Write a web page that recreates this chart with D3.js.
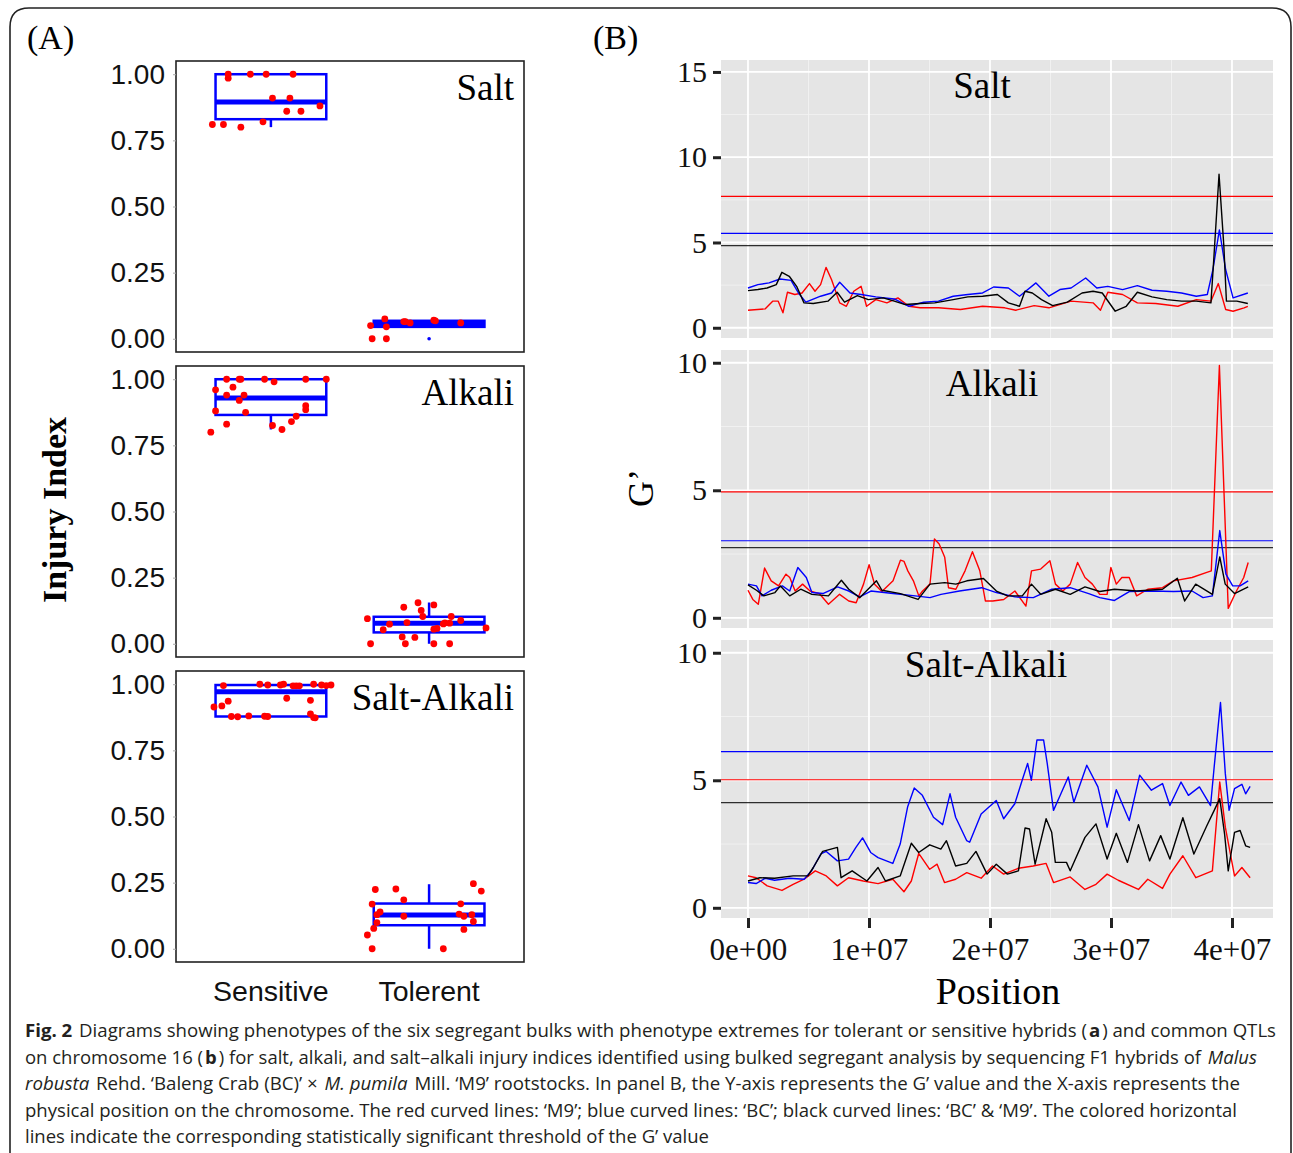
<!DOCTYPE html>
<html>
<head>
<meta charset="utf-8">
<script src="https://cdnjs.cloudflare.com/ajax/libs/d3/7.8.5/d3.min.js"></script>
<style>
  body { margin: 0; background: #fff; }
  svg { display: block; }
</style>
</head>
<body>
<div id="app"></div>
<script>
// ---------- panel A data ----------
const categories = ["Sensitive", "Tolerent"];
const treatments = ["Salt", "Alkali", "Salt-Alkali"];
const injuryTicks = [0, 0.25, 0.5, 0.75, 1];

// box stats: [lower whisker, q1, median, q3, upper whisker]
const saltBoxes = [[0.80, 0.83, 0.895, 1.0, 1.0], [0.045, 0.045, 0.058, 0.068, 0.068]];
const alkaliBoxes = [[0.81, 0.865, 0.929, 1.0, 1.0], [0.0, 0.043, 0.078, 0.102, 0.156]];
const saltAlkaliBoxes = [[0.878, 0.878, 0.972, 0.997, 1.0], [0.0, 0.089, 0.128, 0.171, 0.244]];
const saltOutliers = [[], [0]];
const alkaliOutliers = [[], []];
const saltAlkaliOutliers = [[], []];

// jittered points: [jitter, injury index]
const saltSensitive = [[-0.37,0.81],[-0.30,0.81],[-0.19,0.80],[-0.05,0.82],[-0.27,1.00],[-0.27,0.985],[-0.13,1.00],[-0.03,1.00],[0.14,1.00],[0.01,0.91],[0.12,0.91],[0.31,0.88],[0.10,0.86],[0.19,0.86]];
const saltTolerent = [[-0.37,0.05],[-0.36,0.0],[-0.28,0.075],[-0.27,0.045],[-0.27,0.0],[-0.16,0.065],[-0.15,0.065],[-0.12,0.06],[0.03,0.07],[0.04,0.068],[0.20,0.06]];
const alkaliSensitive = [[-0.38,0.80],[-0.28,0.83],[-0.35,0.88],[-0.35,0.96],[-0.28,1.00],[-0.24,0.97],[-0.28,0.94],[-0.20,1.00],[-0.19,1.00],[-0.17,0.94],[-0.20,0.92],[-0.16,0.875],[-0.04,1.00],[0.02,0.99],[0.01,0.825],[0.07,0.81],[0.13,0.84],[0.16,0.86],[0.22,1.00],[0.22,0.90],[0.22,0.885],[0.35,1.00]];
const alkaliTolerent = [[-0.39,0.095],[-0.37,0.0],[-0.29,0.053],[-0.25,0.074],[-0.16,0.138],[-0.17,0.026],[-0.15,0.0],[-0.14,0.08],[-0.09,0.024],[-0.07,0.155],[-0.05,0.126],[-0.04,0.103],[0.03,0.147],[0.03,0.055],[0.05,0.058],[0.03,0.0],[0.09,0.075],[0.10,0.079],[0.13,0.078],[0.14,0.103],[0.13,0.0],[0.20,0.088],[0.36,0.06]];
const saltAlkaliSensitive = [[-0.36,0.914],[-0.31,0.918],[-0.27,0.936],[-0.30,0.995],[-0.25,0.878],[-0.21,0.877],[-0.14,0.88],[-0.07,1.00],[-0.04,0.879],[-0.02,0.878],[-0.02,0.997],[0.06,0.997],[0.08,1.00],[0.10,0.947],[0.14,0.994],[0.16,0.994],[0.18,0.994],[0.25,0.939],[0.25,0.888],[0.27,0.874],[0.28,0.873],[0.27,1.00],[0.32,0.997],[0.35,0.995],[0.38,0.997]];
const saltAlkaliTolerent = [[-0.34,0.224],[-0.21,0.226],[0.28,0.246],[0.33,0.218],[-0.36,0.169],[-0.16,0.185],[0.20,0.17],[-0.33,0.129],[-0.31,0.139],[-0.16,0.123],[0.19,0.131],[0.22,0.123],[0.27,0.129],[-0.33,0.099],[0.28,0.103],[-0.35,0.077],[0.22,0.073],[-0.39,0.052],[-0.36,0.0],[0.09,0.0]];

// ---------- panel B data (position in Mb, G') ----------
const positionTicks = [0, 1e7, 2e7, 3e7, 4e7];
const positionMinor = [0.5e7, 1.5e7, 2.5e7, 3.5e7];
const gTicksSalt = [0, 5, 10, 15];
const gTicks = [0, 5, 10];
// thresholds: [M9 (red), BC (blue), BC & M9 (black)]
const saltThresholds = [7.7, 5.53, 4.82];
const alkaliThresholds = [4.94, 3.02, 2.75];
const saltAlkaliThresholds = [5.02, 6.12, 4.12];

const saltM9 = [[0,1.03],[1.43,1.11],[2.04,1.56],[2.5,1.56],[2.89,0.88],[3.26,2.08],[3.87,1.95],[4.47,2.04],[5.08,2.59],[5.54,2.14],[6.0,2.53],[6.45,3.54],[6.91,2.82],[7.58,1.46],[8.13,1.26],[8.74,2.14],[9.35,2.43],[9.8,1.26],[10.56,1.65],[11.48,1.46],[12.39,1.75],[13.3,1.26],[14.22,1.17],[15.74,1.17],[17.56,1.07],[19.39,1.26],[21.22,1.17],[22.13,1.03],[23.65,1.3],[24.87,1.17],[26.7,1.56],[28.52,1.46],[29.13,1.03],[29.74,2.08],[30.96,1.95],[32.18,1.46],[33.7,1.42],[35.53,1.26],[37.05,1.65],[38.26,1.56],[38.87,2.59],[39.48,1.07],[40.09,0.97],[41.0,1.17],[41.31,1.26]];
const saltBC = [[0,2.33],[0.82,2.53],[1.74,2.63],[2.65,2.86],[3.56,2.78],[4.17,2.04],[4.78,1.5],[6.0,1.85],[6.91,2.04],[7.58,2.67],[8.43,2.04],[9.35,1.95],[10.56,1.81],[12.09,1.69],[13.3,1.26],[14.52,1.5],[15.74,1.56],[16.96,1.85],[18.17,1.95],[19.39,2.04],[20.3,2.39],[21.52,2.33],[22.44,1.85],[23.8,2.63],[24.87,1.85],[25.78,2.24],[26.7,2.33],[27.91,2.92],[28.83,2.33],[29.74,2.43],[30.96,2.24],[32.18,2.47],[33.39,2.2],[34.61,2.14],[35.83,2.04],[37.05,1.85],[37.96,1.95],[38.42,3.4],[38.96,5.74],[39.48,3.4],[40.09,1.75],[41.31,2.04]];
const saltBoth = [[0,2.18],[0.82,2.24],[1.58,2.33],[2.34,2.53],[2.80,3.25],[3.41,3.02],[4.02,2.43],[4.63,1.46],[5.39,1.42],[6.61,1.56],[7.37,2.08],[7.98,1.5],[9.04,1.89],[9.95,1.65],[11.17,1.75],[12.09,1.56],[13.0,1.36],[14.22,1.42],[15.43,1.46],[16.96,1.65],[18.17,1.81],[19.39,1.85],[20.61,1.95],[21.52,1.46],[22.44,1.26],[22.89,2.14],[23.5,2.04],[24.26,1.65],[25.18,1.3],[26.39,1.5],[27.61,2.04],[28.52,2.14],[29.28,2.04],[30.35,0.97],[31.26,1.26],[32.18,2.08],[33.39,1.81],[34.61,1.65],[35.83,1.56],[37.05,1.56],[38.26,1.46],[38.51,4.18],[38.93,9.0],[39.33,4.77],[39.54,1.56],[40.4,1.56],[41.31,1.42]];

const alkaliM9 = [[0,1.08],[0.4,0.72],[0.85,0.53],[1.37,1.95],[1.92,1.45],[2.53,1.25],[3.14,1.71],[3.45,1.58],[3.9,1.05],[4.51,1.32],[5.13,1.05],[5.89,0.95],[6.65,0.53],[7.57,0.92],[8.33,0.66],[8.94,0.59],[9.55,1.32],[10.01,2.08],[10.46,1.32],[11.07,1.03],[11.99,1.45],[12.6,2.26],[12.9,2.21],[13.21,1.84],[13.67,1.45],[14.12,0.86],[14.43,1.05],[15.04,1.32],[15.41,3.09],[15.8,2.89],[16.26,2.37],[16.57,1.18],[17.18,1.12],[17.94,1.84],[18.55,2.59],[19.16,1.84],[19.62,0.66],[20.23,0.66],[21.14,0.72],[22.06,1.05],[22.97,0.46],[23.43,1.84],[24.19,1.91],[24.95,2.24],[25.41,1.32],[26.02,1.05],[26.63,1.32],[27.24,2.17],[27.85,1.58],[28.46,1.32],[29.07,0.92],[29.68,0.92],[29.99,1.97],[30.44,1.32],[30.9,1.58],[31.51,1.58],[32.12,0.86],[33.04,1.12],[34.26,1.18],[35.17,1.45],[36.7,1.58],[37.92,1.78],[38.29,1.84],[38.96,9.89],[39.69,0.37],[40.37,1.05],[40.97,1.58],[41.34,2.17]];
const alkaliBC = [[0,1.32],[0.7,1.25],[1.16,0.86],[1.92,1.08],[2.84,1.25],[3.45,1.05],[4.12,1.97],[4.82,1.58],[5.28,0.99],[6.19,0.95],[7.41,1.21],[8.33,1.05],[9.23,0.82],[10.16,1.05],[11.99,0.95],[13.82,0.86],[15.04,0.79],[15.95,0.92],[17.48,1.05],[19.31,1.18],[20.53,0.99],[22.06,0.82],[23.58,0.79],[25.11,1.12],[26.63,1.18],[28.16,0.95],[29.07,0.79],[30.29,0.68],[31.51,1.03],[33.34,1.05],[35.17,1.03],[36.7,1.05],[37.61,0.79],[38.38,0.86],[38.99,3.42],[39.5,1.71],[40.06,1.25],[40.67,1.25],[41.34,1.45]];
const alkaliBoth = [[0,1.29],[0.7,1.08],[1.31,0.86],[2.23,0.99],[2.68,1.25],[3.45,0.86],[4.36,1.12],[5.28,0.92],[6.65,0.86],[7.72,1.47],[8.33,1.12],[9.23,0.79],[10.62,1.45],[11.07,1.08],[12.6,0.95],[14.06,0.72],[15.04,1.32],[16.26,1.38],[17.18,1.32],[18.09,1.45],[19.46,1.54],[20.53,1.05],[21.45,0.86],[22.67,0.86],[23.43,1.32],[24.19,0.92],[25.41,1.12],[26.63,0.92],[27.85,1.21],[29.07,1.03],[30.29,1.12],[32.12,1.05],[34.26,1.12],[35.48,1.55],[36.09,0.66],[37.0,1.32],[38.38,0.92],[38.99,2.39],[39.44,1.32],[40.21,0.95],[41.34,1.21]];

const saltAlkaliM9 = [[0,1.25],[0.67,1.18],[1.59,0.86],[2.81,0.68],[3.73,0.92],[4.64,1.12],[5.56,1.45],[6.47,1.25],[7.39,0.86],[8.31,1.18],[9.53,1.05],[10.75,0.95],[11.97,1.12],[12.89,0.63],[13.5,1.05],[14.11,2.13],[15.02,1.51],[15.63,1.71],[16.24,0.99],[17.16,1.12],[18.08,1.38],[19.27,1.16],[20.21,1.64],[21.13,1.32],[22.35,1.55],[23.57,1.64],[24.64,1.74],[25.25,0.99],[26.63,1.21],[27.85,0.72],[28.76,0.92],[29.68,1.32],[30.6,1.08],[32.27,0.72],[33.04,1.12],[34.26,0.76],[34.87,1.32],[35.94,2.04],[37.01,1.18],[38.38,1.45],[38.99,4.93],[39.45,3.16],[40.21,1.25],[40.82,1.58],[41.5,1.18]];
const saltAlkaliBC = [[0,0.99],[0.67,0.95],[1.44,1.16],[2.2,1.08],[3.42,1.16],[4.64,1.12],[5.25,1.45],[6.02,2.11],[6.47,2.21],[7.39,1.84],[8.31,1.91],[8.92,2.37],[9.47,2.74],[10.14,2.17],[10.75,1.97],[11.97,1.74],[12.58,2.5],[13.19,3.95],[13.74,4.7],[14.41,4.41],[15.33,3.55],[16.09,3.26],[16.7,4.47],[17.16,3.55],[18.08,2.63],[18.32,2.57],[19.27,3.68],[20.52,4.21],[21.13,3.49],[22.05,4.08],[22.66,5.0],[23.11,5.66],[23.42,5.0],[23.88,6.58],[24.43,6.58],[24.73,5.66],[25.25,3.82],[25.86,4.47],[26.47,5.13],[26.93,4.14],[28.0,5.59],[28.92,4.74],[29.68,3.16],[30.44,4.63],[31.51,3.42],[32.37,5.2],[33.34,4.61],[34.26,4.87],[34.87,4.01],[35.79,4.93],[36.4,4.41],[37.31,4.74],[38.23,4.01],[38.53,5.53],[39.05,8.05],[39.45,5.26],[39.76,3.82],[40.21,4.67],[40.82,4.84],[41.13,4.47],[41.5,4.76]];
const saltAlkaliBoth = [[0,1.05],[0.98,1.18],[2.2,1.16],[3.73,1.25],[4.95,1.25],[5.4,1.58],[6.17,2.21],[7.39,2.37],[7.69,1.18],[8.61,1.45],[9.83,1.05],[10.75,1.58],[11.36,1.05],[12.58,1.25],[13.5,2.53],[14.11,2.17],[15.02,2.47],[15.94,2.3],[16.4,2.63],[17.16,1.64],[18.08,1.74],[18.84,2.21],[19.76,1.32],[20.52,1.71],[21.44,1.32],[22.35,1.45],[22.9,3.13],[23.27,3.09],[23.73,1.71],[24.64,3.49],[25.1,2.96],[25.4,1.78],[26.32,1.78],[26.63,1.45],[27.85,2.76],[28.76,3.29],[29.68,1.91],[30.44,2.92],[31.36,1.78],[32.27,3.26],[33.19,1.84],[34.11,2.83],[34.87,1.91],[35.94,3.53],[36.85,2.11],[37.92,3.22],[38.53,3.82],[38.99,4.28],[39.39,2.89],[39.69,1.45],[40.21,2.96],[40.67,3.03],[41.13,2.43],[41.5,2.37]];

// ---------- drawing ----------
const width = 1293;
const height = 1153;
const serif = "'Liberation Serif', 'Times New Roman', serif";
const sans = "'Liberation Sans', Arial, sans-serif";
const lineColors = ["#ff0000", "#0000ff", "#000000"];

const svg = d3
  .select("#app")
  .append("svg")
  .attr("width", width)
  .attr("height", height);

// outer rounded frame, open at the bottom
svg
  .append("path")
  .attr("d", "M10,1153 L10,27 Q10,8 29,8 L1272,8 Q1291,8 1291,27 L1291,1153")
  .attr("fill", "none")
  .attr("stroke", "#222")
  .attr("stroke-width", 1.6);

svg.append("text").text("(A)").attr("x", 27).attr("y", 49)
  .style("font-family", serif).style("font-size", "34px");
svg.append("text").text("(B)").attr("x", 593).attr("y", 49)
  .style("font-family", serif).style("font-size", "34px");

// ----- panel A -----
const aLeft = 176, aRight = 524, aHeight = 291;
const aTops = [61, 366, 671];
const aBoxes = [saltBoxes, alkaliBoxes, saltAlkaliBoxes];
const aOutliers = [saltOutliers, alkaliOutliers, saltAlkaliOutliers];
const aPoints = [
  [saltSensitive, saltTolerent],
  [alkaliSensitive, alkaliTolerent],
  [saltAlkaliSensitive, saltAlkaliTolerent]
];
const aTitleY = [100, 405, 710];

const xA = d3.scaleLinear().domain([0.4, 2.6]).range([aLeft, aRight]);
const boxHalf = 0.35;

treatments.forEach((name, i) => {
  const top = aTops[i];
  const yA = d3.scaleLinear().domain([-0.05, 1.05]).range([top + aHeight, top]);
  const g = svg.append("g");

  g.append("rect")
    .attr("x", aLeft).attr("y", top)
    .attr("width", aRight - aLeft).attr("height", aHeight)
    .attr("fill", "#fff").attr("stroke", "#222").attr("stroke-width", 1.6);

  const yAxis = d3.axisLeft(yA).tickValues(injuryTicks).tickSize(3).tickPadding(8)
    .tickFormat(d3.format(".2f"));
  const ax = g.append("g").attr("transform", `translate(${aLeft},0)`).call(yAxis);
  ax.select(".domain").remove();
  ax.selectAll("line").attr("stroke", "#aaa");
  ax.selectAll("text").style("font-family", sans).style("font-size", "28px").attr("fill", "#111");

  // boxes
  aBoxes[i].forEach(([lo, q1, med, q3, hi], c) => {
    const cx = xA(c + 1);
    const bx = g.append("g").attr("stroke", "#0000ff").attr("fill", "none");
    bx.append("line").attr("x1", cx).attr("x2", cx).attr("y1", yA(q3)).attr("y2", yA(hi)).attr("stroke-width", 2.5);
    bx.append("line").attr("x1", cx).attr("x2", cx).attr("y1", yA(q1)).attr("y2", yA(lo)).attr("stroke-width", 2.5);
    bx.append("rect")
      .attr("x", xA(c + 1 - boxHalf)).attr("y", yA(q3))
      .attr("width", xA(c + 1 + boxHalf) - xA(c + 1 - boxHalf))
      .attr("height", yA(q1) - yA(q3))
      .attr("stroke-width", 2.5);
    bx.append("line")
      .attr("x1", xA(c + 1 - boxHalf)).attr("x2", xA(c + 1 + boxHalf))
      .attr("y1", yA(med)).attr("y2", yA(med)).attr("stroke-width", 5);
    aOutliers[i][c].forEach(v => {
      g.append("circle").attr("cx", cx).attr("cy", yA(v)).attr("r", 1.8).attr("fill", "#0000ff");
    });
  });

  // jittered points
  aPoints[i].forEach((pts, c) => {
    g.selectAll(null)
      .data(pts)
      .enter()
      .append("circle")
      .attr("cx", ([j]) => xA(c + 1 + j))
      .attr("cy", ([, v]) => yA(v))
      .attr("r", 3.4)
      .attr("fill", "#ff0000");
  });

  g.append("text").text(name)
    .attr("x", 514).attr("y", aTitleY[i]).attr("text-anchor", "end")
    .style("font-family", serif).style("font-size", "37px");
});

categories.forEach((c, i) => {
  svg.append("text").text(c)
    .attr("x", xA(i + 1)).attr("y", 1001).attr("text-anchor", "middle")
    .style("font-family", sans).style("font-size", "28.5px").attr("fill", "#111");
});

svg.append("text").text("Injury Index")
  .attr("transform", "translate(66,510) rotate(-90)")
  .attr("text-anchor", "middle")
  .style("font-family", serif).style("font-size", "34px").style("font-weight", "bold");

// ----- panel B -----
const bLeft = 721, bRight = 1273, bHeight = 278;
const bTops = [60, 350, 640];
const bSeries = [
  [saltM9, saltBC, saltBoth],
  [alkaliM9, alkaliBC, alkaliBoth],
  [saltAlkaliM9, saltAlkaliBC, saltAlkaliBoth]
];
const bThresholds = [saltThresholds, alkaliThresholds, saltAlkaliThresholds];
const bDomains = [[-0.6, 15.7], [-0.4, 10.5], [-0.4, 10.5]];
const bTicks = [gTicksSalt, gTicks, gTicks];
const bMinor = [[2.5, 7.5, 12.5], [2.5, 7.5], [2.5, 7.5]];
const bTitle = [[982, 98], [992, 396], [986, 677]];

const xB = d3.scaleLinear().domain([-2.23e6, 43.39e6]).range([bLeft, bRight]);
const expFormat = v => d3.format(".0e")(v).replace(/e([+-])(\d)$/, "e$10$2");

treatments.forEach((name, i) => {
  const top = bTops[i];
  const yB = d3.scaleLinear().domain(bDomains[i]).range([top + bHeight, top]);
  const g = svg.append("g");

  g.append("rect")
    .attr("x", bLeft).attr("y", top)
    .attr("width", bRight - bLeft).attr("height", bHeight)
    .attr("fill", "#e5e5e5");

  // minor grid
  g.selectAll(null).data(positionMinor).enter().append("line")
    .attr("x1", d => xB(d)).attr("x2", d => xB(d))
    .attr("y1", top).attr("y2", top + bHeight)
    .attr("stroke", "#f2f2f2").attr("stroke-width", 0.9);
  g.selectAll(null).data(bMinor[i]).enter().append("line")
    .attr("x1", bLeft).attr("x2", bRight)
    .attr("y1", d => yB(d)).attr("y2", d => yB(d))
    .attr("stroke", "#f2f2f2").attr("stroke-width", 0.9);
  // major grid
  g.selectAll(null).data(positionTicks).enter().append("line")
    .attr("x1", d => xB(d)).attr("x2", d => xB(d))
    .attr("y1", top).attr("y2", top + bHeight)
    .attr("stroke", "#fff").attr("stroke-width", 1.8);
  g.selectAll(null).data(bTicks[i]).enter().append("line")
    .attr("x1", bLeft).attr("x2", bRight)
    .attr("y1", d => yB(d)).attr("y2", d => yB(d))
    .attr("stroke", "#fff").attr("stroke-width", 1.8);

  // threshold lines
  bThresholds[i].forEach((t, k) => {
    g.append("line")
      .attr("x1", bLeft).attr("x2", bRight)
      .attr("y1", yB(t)).attr("y2", yB(t))
      .attr("stroke", lineColors[k]).attr("stroke-width", 1.2)
      .attr("opacity", k === 2 ? 0.8 : 1);
  });

  const line = d3.line()
    .x(([p]) => xB(p * 1e6))
    .y(([, v]) => yB(v));

  bSeries[i].forEach((s, k) => {
    g.append("path")
      .datum(s)
      .attr("d", line)
      .attr("fill", "none")
      .attr("stroke", lineColors[k])
      .attr("stroke-width", 1.4)
      .attr("stroke-linejoin", "round");
  });

  const yAxis = d3.axisLeft(yB).tickValues(bTicks[i]).tickSize(8).tickPadding(6);
  const ax = g.append("g").attr("transform", `translate(${bLeft},0)`).call(yAxis);
  ax.select(".domain").remove();
  ax.selectAll("line").attr("stroke", "#222").attr("stroke-width", 3);
  ax.selectAll("text").style("font-family", serif).style("font-size", "30px").attr("fill", "#111");

  g.append("text").text(name)
    .attr("x", bTitle[i][0]).attr("y", bTitle[i][1]).attr("text-anchor", "middle")
    .style("font-family", serif).style("font-size", "37px");
});

const xAxisB = d3.axisBottom(xB).tickValues(positionTicks).tickSize(10).tickPadding(10)
  .tickFormat(expFormat);
const xax = svg.append("g").attr("transform", `translate(0,${bTops[2] + bHeight})`).call(xAxisB);
xax.select(".domain").remove();
xax.selectAll("line").attr("stroke", "#222").attr("stroke-width", 3);
xax.selectAll("text").style("font-family", serif).style("font-size", "31px").attr("fill", "#111");

svg.append("text").text("Position")
  .attr("x", 998).attr("y", 1004).attr("text-anchor", "middle")
  .style("font-family", serif).style("font-size", "38px");

svg.append("text").text("G’")
  .attr("transform", "translate(653,488) rotate(-90)")
  .attr("text-anchor", "middle")
  .style("font-family", serif).style("font-size", "36px");

// ----- caption -----
const captionLines = [
  { y: 1037, len: 1251, parts: [["Fig. 2", "bold"], [" Diagrams showing phenotypes of the six segregant bulks with phenotype extremes for tolerant or sensitive hybrids (", ""], ["a", "bold"], [") and common QTLs", ""]] },
  { y: 1063.5, len: 1232, parts: [["on chromosome 16 (", ""], ["b", "bold"], [") for salt, alkali, and salt–alkali injury indices identified using bulked segregant analysis by sequencing F1 hybrids of ", ""], ["Malus", "italic"]] },
  { y: 1090, len: 1215, parts: [["robusta", "italic"], [" Rehd. ‘Baleng Crab (BC)’ × ", ""], ["M. pumila", "italic"], [" Mill. ‘M9’ rootstocks. In panel B, the Y-axis represents the G’ value and the X-axis represents the", ""]] },
  { y: 1116.5, len: 1212, parts: [["physical position on the chromosome. The red curved lines: ‘M9’; blue curved lines: ‘BC’; black curved lines: ‘BC’ & ‘M9’. The colored horizontal", ""]] },
  { y: 1143, len: 684, parts: [["lines indicate the corresponding statistically significant threshold of the G’ value", ""]] }
];

const gap = 2;
captionLines.forEach(l => {
  // each segment is its own text, squeezed by the same factor so the line fits
  const segs = l.parts.map(([txt, st]) => {
    const t = svg.append("text")
      .attr("y", l.y)
      .style("white-space", "pre")
      .style("font-family", "'Open Sans', 'Noto Sans', sans-serif")
      .style("font-size", "18.5px")
      .attr("fill", "#231f20")
      .text(txt);
    if (st === "bold") t.style("font-weight", "bold");
    if (st === "italic") t.style("font-style", "italic");
    return t;
  });
  const widths = segs.map(t => t.node().getComputedTextLength());
  const k = (l.len - gap * (segs.length - 1)) / d3.sum(widths);
  let cursor = 25;
  segs.forEach((t, j) => {
    const w = widths[j] * k;
    t.attr("x", cursor).attr("textLength", w).attr("lengthAdjust", "spacingAndGlyphs");
    cursor += w + gap;
  });
});
</script>
</body>
</html>
